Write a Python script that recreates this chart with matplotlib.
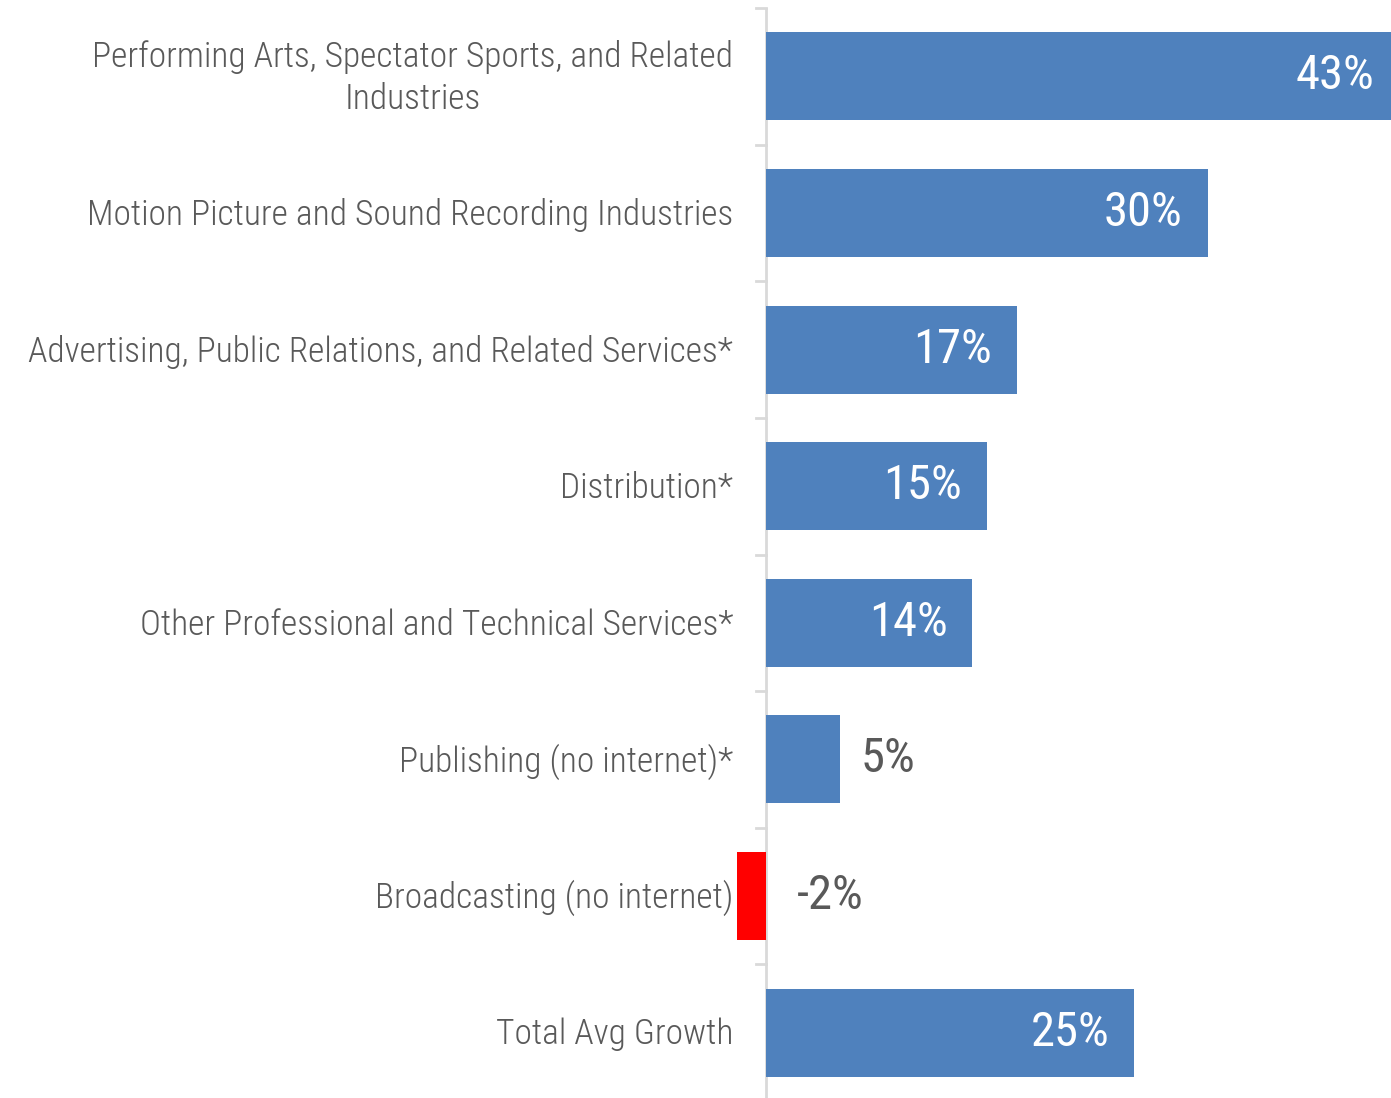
import matplotlib.pyplot as plt

categories = [
    "Performing Arts, Spectator Sports, and Related\nIndustries",
    "Motion Picture and Sound Recording Industries",
    "Advertising, Public Relations, and Related Services*",
    "Distribution*",
    "Other Professional and Technical Services*",
    "Publishing (no internet)*",
    "Broadcasting (no internet)",
    "Total Avg Growth",
]
growth = [43, 30, 17, 15, 14, 5, -2, 25]

BLUE = "#4f81bd"
RED = "#ff0000"
GREY = "#595959"
AXIS = "#d9d9d9"

plt.rcParams["font.family"] = ["Roboto Condensed", "DejaVu Sans"]

fig = plt.figure(figsize=(13.91, 10.98), dpi=100)
ax = fig.add_axes([737 / 1391, -3 / 1098, 654 / 1391, 1093 / 1098])

ys = list(range(len(categories)))
colors = [RED if v < 0 else BLUE for v in growth]
ax.barh(ys, growth, height=0.645, color=colors, zorder=2)

ax.set_xlim(-2, 42.45)
ax.set_ylim(len(categories) - 0.5, -0.5)

# category names right-aligned against the axis line
for y, name in zip(ys, categories):
    ax.annotate(name, xy=(-2, y), xytext=(-4, -2), textcoords="offset pixels",
                ha="right", va="center", fontsize=25.5, color=GREY, fontweight="light",
                multialignment="center", linespacing=1.32, annotation_clip=False)

# value labels: white inside long bars, grey beside short ones
for y, v in zip(ys, growth):
    txt = f"{v}%"
    if v >= 10:
        ax.annotate(txt, xy=(v, y), xytext=(-25, 0), textcoords="offset pixels",
                    ha="right", va="center", fontsize=35, color="white",
                    annotation_clip=False)
    elif v >= 0:
        ax.annotate(txt, xy=(v, y), xytext=(21, 0), textcoords="offset pixels",
                    ha="left", va="center", fontsize=35, color=GREY)
    else:
        ax.annotate(txt, xy=(0, y), xytext=(30, 0), textcoords="offset pixels",
                    ha="left", va="center", fontsize=35, color=GREY)

# zero line with short ticks between categories
ax.axvline(0, color=AXIS, lw=2, zorder=1)
for b in [i - 0.5 for i in ys]:
    ax.plot([-0.7, 0], [b, b], color=AXIS, lw=2, clip_on=False, zorder=1)

ax.set_xticks([])
ax.set_yticks([])
for s in ax.spines.values():
    s.set_visible(False)

fig.savefig("out.png", dpi=100)
